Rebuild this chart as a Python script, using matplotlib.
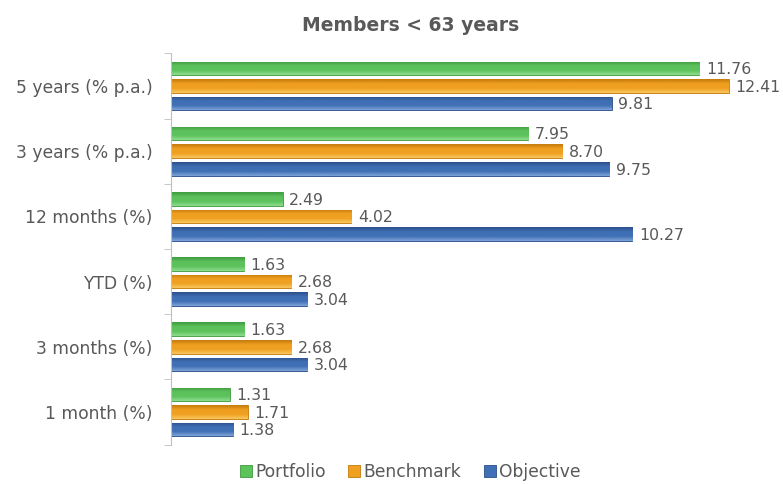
import matplotlib.pyplot as plt
import numpy as np
from matplotlib.colors import LinearSegmentedColormap

categories = ['1 month (%)', '3 months (%)', 'YTD (%)', '12 months (%)',
              '3 years (% p.a.)', '5 years (% p.a.)']
portfolio = [1.31, 1.63, 1.63, 2.49, 7.95, 11.76]
benchmark = [1.71, 2.68, 2.68, 4.02, 8.70, 12.41]
objective = [1.38, 3.04, 3.04, 10.27, 9.75, 9.81]

series = [
    ('Portfolio', portfolio, ['#3f9a3f', '#5cc25c', '#8fdc8f'], 0.27),
    ('Benchmark', benchmark, ['#c47a0c', '#f0a020', '#f8c860'], 0.0),
    ('Objective', objective, ['#2b4f8a', '#3f6fb5', '#7fa4d8'], -0.27),
]

TEXT = '#595959'
plt.rcParams['font.family'] = ['DejaVu Sans']


def main():
    fig = plt.figure(figsize=(7.83, 4.84), dpi=100)
    ax = fig.add_axes([0.218, 0.0814, 0.775, 0.8083])
    y = np.arange(len(categories))
    h = 0.21

    handles = []
    for name, vals, cols, off in series:
        bars = ax.barh(y + off, vals, height=h, color=cols[1],
                       edgecolor=cols[0], linewidth=0.6, label=name)
        cmap = LinearSegmentedColormap.from_list(name, [cols[2], cols[1], cols[1], cols[0]])
        grad = np.linspace(0, 1, 64).reshape(-1, 1)
        for b in bars:
            x0, y0 = b.get_x(), b.get_y()
            im = ax.imshow(grad, extent=[x0, x0 + b.get_width(), y0 + b.get_height(), y0],
                           aspect='auto', cmap=cmap, zorder=b.get_zorder(),
                           interpolation='bicubic')
            im.set_clip_path(b)
        for b, v in zip(bars, vals):
            ax.text(v + 0.15, b.get_y() + b.get_height() / 2 - 0.02, '%.2f' % v,
                    va='center', ha='left', fontsize=11.3, color=TEXT)
        handles.append(bars)

    ax.set_xlim(0, 13.5)
    ax.set_ylim(-0.5, len(categories) - 0.5)
    ax.set_yticks(y)
    ax.set_yticklabels(categories, fontsize=12.3, color=TEXT)
    ax.set_yticks(np.arange(-0.5, len(categories), 1), minor=True)
    ax.tick_params(axis='y', which='major', length=0, pad=13)
    ax.tick_params(axis='y', which='minor', length=5, color='#bfbfbf')
    ax.set_xticks([])
    for s in ['top', 'right', 'bottom']:
        ax.spines[s].set_visible(False)
    ax.spines['left'].set_color('#bfbfbf')

    fig.text(0.524, 0.948, 'Members < 63 years', ha='center', va='center',
             fontsize=13.5, fontweight='bold', color=TEXT)

    fig.legend(handles, [s[0] for s in series], loc='center', ncol=3,
               bbox_to_anchor=(0.524, 0.025), frameon=False, fontsize=12.3,
               labelcolor=TEXT, handlelength=0.7, handleheight=0.7,
               handletextpad=0.2, columnspacing=1.3)

    fig.savefig('out.png', dpi=100)


if __name__ == '__main__':
    main()
